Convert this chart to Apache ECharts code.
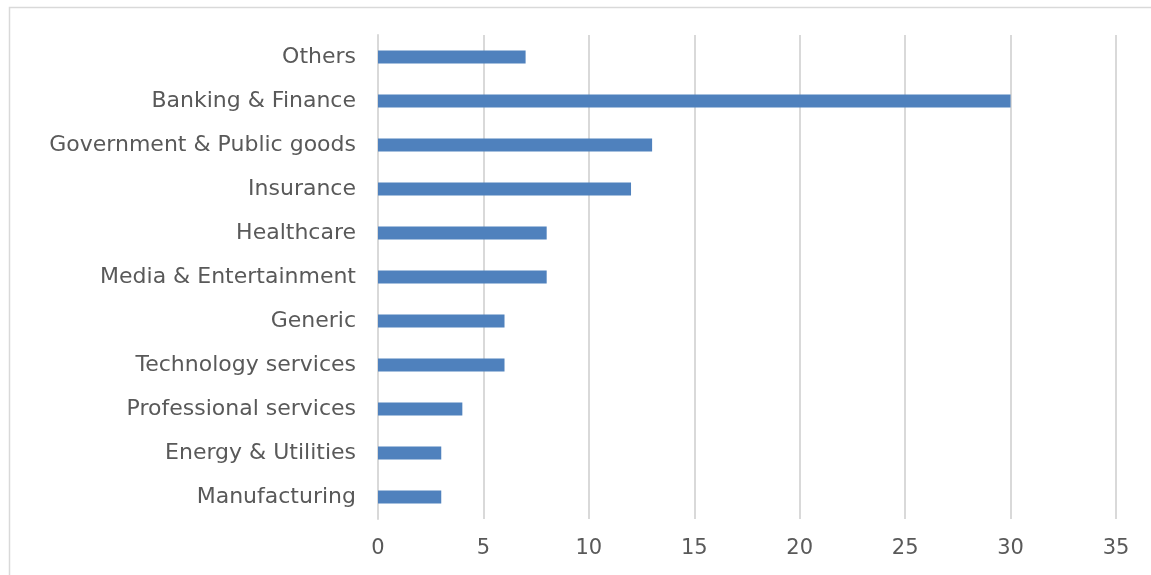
<!DOCTYPE html>
<html>
<head>
<meta charset="utf-8">
<script src="https://cdn.jsdelivr.net/npm/echarts@6/dist/echarts.min.js"></script>
<style>
  html, body { margin: 0; padding: 0; background: #fff; }
  #chart { width: 1151px; height: 575px; }
</style>
</head>
<body>
<div id="chart"></div>
<script>
// industries, top to bottom as in the picture
const categories = [
  'Others', 'Banking & Finance', 'Government & Public goods', 'Insurance',
  'Healthcare', 'Media & Entertainment', 'Generic', 'Technology services',
  'Professional services', 'Energy & Utilities', 'Manufacturing'
];
const values = [7, 30, 13, 12, 8, 8, 6, 6, 4, 3, 3];
const xTicks = { min: 0, max: 35, interval: 5 };

const chart = echarts.init(document.getElementById('chart'));
const font = '"DejaVu Sans", sans-serif';

chart.setOption({
  animation: false,
  textStyle: { fontFamily: font },
  graphic: [{
    type: 'rect',
    left: 7, top: 5,
    shape: { width: 1170, height: 600 },
    style: { fill: 'none', stroke: '#d9d9d9', lineWidth: 1.5 },
    silent: true
  }],
  grid: { left: 378, right: 35, top: 35, bottom: 56, containLabel: false },
  xAxis: {
    type: 'value',
    min: xTicks.min, max: xTicks.max, interval: xTicks.interval,
    axisLine: { show: false },
    axisTick: { show: false },
    splitLine: { lineStyle: { color: '#d9d9d9', width: 2 } },
    axisLabel: { color: '#595959', fontSize: 21, margin: 19, fontFamily: font }
  },
  yAxis: {
    type: 'category',
    inverse: true,
    data: categories,
    axisLine: { lineStyle: { color: '#d9d9d9', width: 2 } },
    axisTick: { length: 8, lineStyle: { color: '#d9d9d9', width: 2 } },
    axisLabel: { color: '#595959', fontSize: 22, margin: 22, fontFamily: font }
  },
  series: [{
    type: 'bar',
    data: values,
    barWidth: 13,
    itemStyle: { color: '#4f81bd' }
  }]
});
</script>
</body>
</html>
